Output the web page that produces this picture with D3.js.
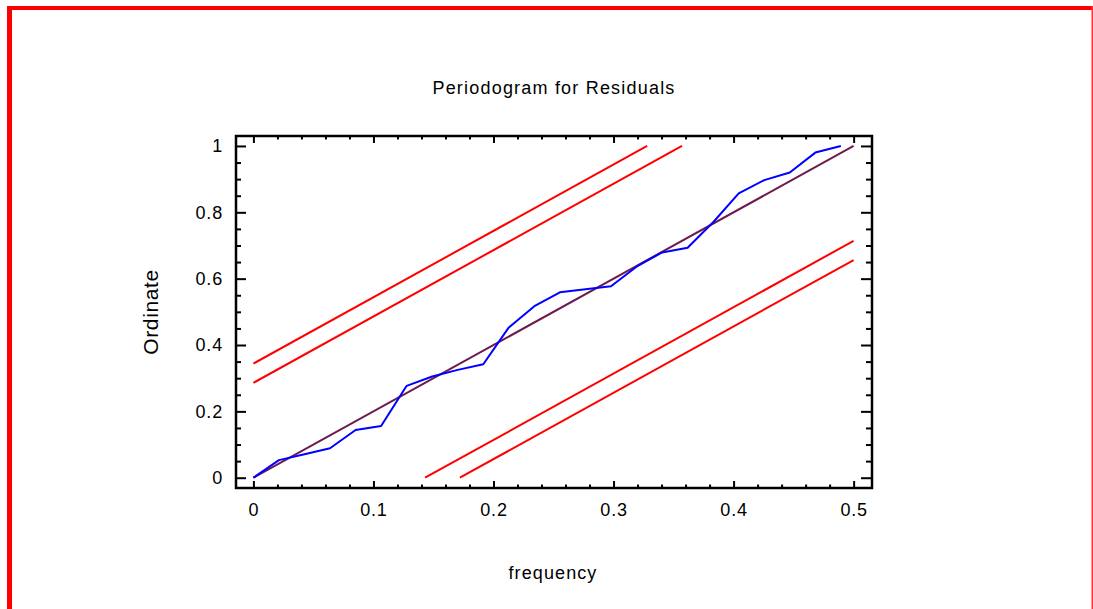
<!DOCTYPE html>
<html>
<head>
<meta charset="utf-8">
<script src="https://cdn.jsdelivr.net/npm/d3@7"></script>
<style>
  html, body { margin: 0; padding: 0; background: #fff; }
  svg { display: block; }
  text { font-family: "Liberation Sans", Arial, sans-serif; fill: #000; }
</style>
</head>
<body>
<svg id="chart" width="1093" height="609"></svg>
<script>
// ---- data ----
const frequency = [0, 0.02128, 0.04255, 0.06383, 0.08511, 0.10638, 0.12766, 0.14894,
  0.17021, 0.19149, 0.21277, 0.23404, 0.25532, 0.27660, 0.29787, 0.31915, 0.34043,
  0.36170, 0.38298, 0.40426, 0.42553, 0.44681, 0.46809, 0.48936];
const ordinate = [0, 0.053, 0.071, 0.089, 0.144, 0.156, 0.277, 0.305, 0.325, 0.342,
  0.453, 0.517, 0.559, 0.568, 0.577, 0.636, 0.679, 0.693, 0.770, 0.857, 0.897, 0.920,
  0.980, 1.0];
const boundOffsets = [0.286, 0.344];      // KS-type limits around the diagonal
const xTickLabels = [0, 0.1, 0.2, 0.3, 0.4, 0.5];
const yTickLabels = [0, 0.2, 0.4, 0.6, 0.8, 1];
const xMinorStep = 0.02, yMinorStep = 0.05;
const titleText = "Periodogram for Residuals";
const xLabel = "frequency";
const yLabel = "Ordinate";

// ---- layout ----
const svg = d3.select("#chart");
const L = 236, R = 872, T = 136, B = 488;
const x = d3.scaleLinear().domain([-0.0145, 0.5153]).range([L, R]);
const y = d3.scaleLinear().domain([-0.031, 1.030]).range([B, T]);

// red outer border
svg.append("rect").attr("x", 7).attr("y", 6).attr("width", 5).attr("height", 603).attr("fill", "#ff0000");
svg.append("rect").attr("x", 7).attr("y", 6).attr("width", 1086).attr("height", 4).attr("fill", "#ff0000");
svg.append("rect").attr("x", 1091.5).attr("y", 6).attr("width", 1.5).attr("height", 603).attr("fill", "#ff3333");

// title
svg.append("text").attr("x", 554).attr("y", 94).attr("text-anchor", "middle")
  .style("font-size", "18px").style("letter-spacing", "1.2px").text(titleText);

// minor/major tick values
const xMinor = d3.range(0, 0.5 + 1e-9, xMinorStep).filter(v => !xTickLabels.some(t => Math.abs(t - v) < 1e-9));
const yMinor = d3.range(0, 1 + 1e-9, yMinorStep).filter(v => !yTickLabels.some(t => Math.abs(t - v) < 1e-9));

function styleAxis(g) {
  g.select(".domain").remove();
  g.selectAll(".tick line").attr("stroke", "#000").attr("stroke-width", 2);
}
// bottom
svg.append("g").attr("transform", `translate(0,${B})`)
  .call(d3.axisBottom(x).tickValues(xTickLabels).tickSize(-7).tickPadding(15).tickFormat(d3.format("")))
  .call(styleAxis)
  .call(g => g.selectAll("text").style("font-size", "18px").style("letter-spacing", "0.8px").attr("dy", "0.71em"));
svg.append("g").attr("transform", `translate(0,${B})`)
  .call(d3.axisBottom(x).tickValues(xMinor).tickSize(-3.5).tickFormat(""))
  .call(styleAxis);
// top
svg.append("g").attr("transform", `translate(0,${T})`)
  .call(d3.axisTop(x).tickValues(xTickLabels).tickSize(-7).tickFormat(""))
  .call(styleAxis);
svg.append("g").attr("transform", `translate(0,${T})`)
  .call(d3.axisTop(x).tickValues(xMinor).tickSize(-3.5).tickFormat(""))
  .call(styleAxis);
// left
svg.append("g").attr("transform", `translate(${L},0)`)
  .call(d3.axisLeft(y).tickValues(yTickLabels).tickSize(-10).tickPadding(13).tickFormat(d3.format("")))
  .call(styleAxis)
  .call(g => g.selectAll("text").style("font-size", "18px").style("letter-spacing", "0.8px"));
svg.append("g").attr("transform", `translate(${L},0)`)
  .call(d3.axisLeft(y).tickValues(yMinor).tickSize(-5).tickFormat(""))
  .call(styleAxis);
// right
svg.append("g").attr("transform", `translate(${R},0)`)
  .call(d3.axisRight(y).tickValues(yTickLabels).tickSize(-11).tickFormat(""))
  .call(styleAxis);
svg.append("g").attr("transform", `translate(${R},0)`)
  .call(d3.axisRight(y).tickValues(yMinor).tickSize(-6).tickFormat(""))
  .call(styleAxis);

// frame
svg.append("rect").attr("x", L).attr("y", T).attr("width", R - L).attr("height", B - T)
  .attr("fill", "none").attr("stroke", "#000").attr("stroke-width", 2.5);

// axis labels
svg.append("text").attr("x", 553).attr("y", 579).attr("text-anchor", "middle")
  .style("font-size", "18px").style("letter-spacing", "1.1px").text(xLabel);
svg.append("text").attr("transform", "translate(158,312) rotate(-90)").attr("text-anchor", "middle")
  .style("font-size", "21px").style("letter-spacing", "0.6px").text(yLabel);

const line = d3.line().x(d => x(d[0])).y(d => y(d[1]));

// bounds (red)
boundOffsets.forEach(c => {
  const upper = [[0, c], [(1 - c) / 2, 1]];
  const lower = [[c / 2, 0], [0.5, 1 - c]];
  [upper, lower].forEach(seg => {
    svg.append("path").datum(seg).attr("d", line)
      .attr("fill", "none").attr("stroke", "#ff0000").attr("stroke-width", 2);
  });
});

// diagonal
svg.append("path").datum([[0, 0], [0.5, 1]]).attr("d", line)
  .attr("fill", "none").attr("stroke", "#6e1a4e").attr("stroke-width", 2);

// cumulative periodogram
svg.append("path").datum(frequency.map((f, i) => [f, ordinate[i]])).attr("d", line)
  .attr("fill", "none").attr("stroke", "#0000ff").attr("stroke-width", 2).attr("stroke-linejoin", "round");
</script>
</body>
</html>
